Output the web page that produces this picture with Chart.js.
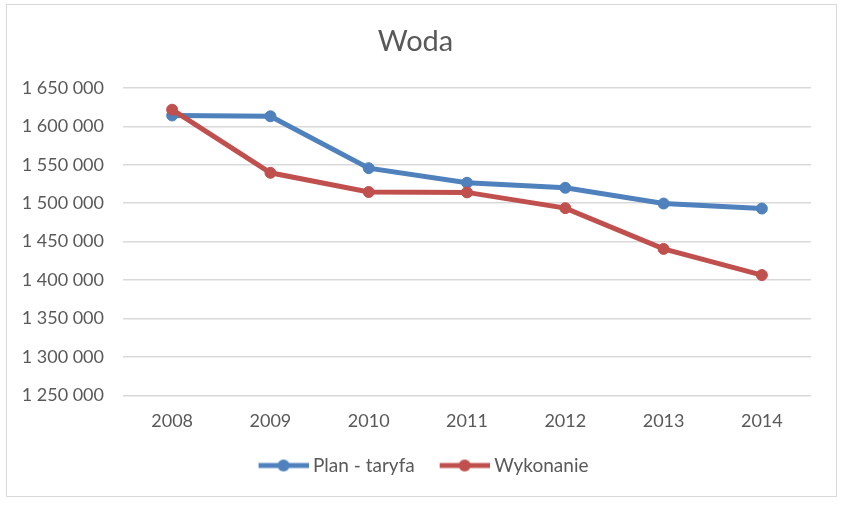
<!DOCTYPE html>
<html>
<head>
<meta charset="utf-8">
<script src="https://cdn.jsdelivr.net/npm/chart.js@4"></script>
<style>
  html, body { margin: 0; padding: 0; background: #fff; }
  #wrap { position: relative; width: 842px; height: 506px; }
</style>
</head>
<body>
<div id="wrap"><canvas id="woda" width="842" height="506"></canvas></div>
<script>
const lata = ["2008", "2009", "2010", "2011", "2012", "2013", "2014"];
const planTaryfa = [1614000, 1613000, 1545500, 1526500, 1520000, 1499500, 1493000];
const wykonanie = [1621500, 1539500, 1514500, 1514000, 1493500, 1440500, 1406500];
const osY = { min: 1250000, max: 1650000, krok: 50000 };

const niebieski = "#4F81BD";
const czerwony = "#C0504D";
const szary = "#595959";

// ikona legendy: linia z kropka (z pustym miejscem po lewej)
function ikona(kolor) {
  const c = document.createElement("canvas");
  c.width = 71;
  c.height = 14;
  const g = c.getContext("2d");
  g.strokeStyle = kolor;
  g.lineWidth = 5;
  g.beginPath();
  g.moveTo(21, 7);
  g.lineTo(71, 7);
  g.stroke();
  g.fillStyle = kolor;
  g.beginPath();
  g.arc(46, 7, 6, 0, Math.PI * 2);
  g.fill();
  return c;
}

function formatLiczby(v) {
  return String(v).replace(/\B(?=(\d{3})+(?!\d))/g, " ");
}

const ramka = {
  id: "ramka",
  afterDraw(chart) {
    const ctx = chart.ctx;
    ctx.save();
    ctx.strokeStyle = "#d9d9d9";
    ctx.lineWidth = 1;
    ctx.strokeRect(6.5, 4.5, 830, 492);
    ctx.restore();
  },
};

new Chart(document.getElementById("woda"), {
  type: "line",
  data: {
    labels: lata,
    datasets: [
      {
        label: "Plan - taryfa",
        data: planTaryfa,
        borderColor: niebieski,
        backgroundColor: niebieski,
        borderWidth: 5,
        pointRadius: 5.5,
        pointBorderWidth: 1,
        tension: 0,
        order: 1,
      },
      {
        label: "Wykonanie",
        data: wykonanie,
        borderColor: czerwony,
        backgroundColor: czerwony,
        borderWidth: 5,
        pointRadius: 5.5,
        pointBorderWidth: 1,
        tension: 0,
        order: 0,
      },
    ],
  },
  options: {
    responsive: false,
    animation: false,
    layout: { padding: { left: 0, right: 11, top: 0, bottom: 21 } },
    scales: {
      x: {
        offset: true,
        grid: { display: false, drawTicks: false },
        border: { display: false },
        ticks: {
          color: szary,
          padding: 15,
          font: { family: "Lato", size: 18 },
        },
      },
      y: {
        min: osY.min,
        max: osY.max,
        grid: { color: "#d9d9d9", lineWidth: 1.5, drawTicks: false },
        border: { display: false },
        ticks: {
          stepSize: osY.krok,
          color: szary,
          padding: 19,
          font: { family: "Lato", size: 18 },
          callback: (v) => formatLiczby(v),
        },
        afterFit: (scale) => {
          scale.width = 123;
        },
      },
      // pusta os po prawej, tylko jako margines
      y2: {
        type: "linear",
        position: "right",
        grid: { display: false, drawTicks: false },
        border: { display: false },
        ticks: { display: false },
        afterFit: (scale) => {
          scale.width = 20;
        },
      },
    },
    plugins: {
      title: {
        display: true,
        text: "Woda",
        color: szary,
        font: { family: "Lato", size: 29, weight: "normal" },
        padding: { top: 24, bottom: 29 },
      },
      legend: {
        position: "bottom",
        labels: {
          color: szary,
          font: { family: "Lato", size: 19 },
          usePointStyle: true,
          pointStyleWidth: 61,
          padding: 9,
          generateLabels: (chart) =>
            chart.data.datasets.map((ds, i) => ({
              text: ds.label,
              fontColor: szary,
              pointStyle: ikona(ds.borderColor),
              datasetIndex: i,
              hidden: false,
              lineWidth: 0,
            })),
        },
      },
      tooltip: { enabled: false },
    },
  },
  plugins: [ramka],
});
</script>
</body>
</html>
